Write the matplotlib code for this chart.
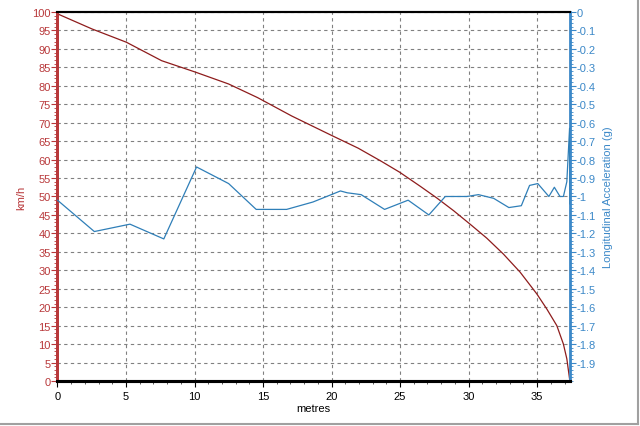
import matplotlib
matplotlib.use("Agg")
import matplotlib.pyplot as plt
from matplotlib.ticker import MultipleLocator, FixedLocator
from matplotlib.lines import Line2D

# distance (m) vs speed (km/h)
speed_x = [0, 2.52, 5.03, 7.6, 10.07, 12.48, 14.6, 17.1, 20.03, 21.94, 23.65,
           24.96, 26.46, 27.68, 28.89, 30.11, 31.33, 32.54, 33.76, 34.98,
           35.71, 36.44, 36.92, 37.17, 37.34, 37.38]
speed_v = [99.5, 95.4, 91.8, 86.8, 83.7, 80.5, 76.8, 71.8, 66.5, 63.1, 59.5,
           56.6, 52.8, 49.6, 46.2, 42.5, 38.7, 34.4, 29.5, 23.6,
           19.5, 15.0, 10.0, 6.0, 1.4, 0.3]

# distance (m) vs longitudinal acceleration (g)
acc_x = [0, 2.69, 5.29, 7.76, 10.15, 12.49, 14.5, 16.72, 18.64, 20.65, 21.15,
         22.16, 23.87, 25.59, 27.1, 28.3, 29.87, 30.72, 31.83, 32.94, 33.85,
         34.45, 35.05, 35.86, 36.26, 36.67, 36.92, 37.17, 37.37, 37.4]
acc_g = [-1.02, -1.19, -1.15, -1.23, -0.84, -0.93, -1.07, -1.07, -1.03, -0.97,
         -0.98, -0.99, -1.07, -1.02, -1.10, -1.00, -1.00, -0.99, -1.01, -1.06,
         -1.05, -0.94, -0.93, -1.00, -0.95, -1.00, -1.00, -0.92, -0.63, -1.04]

left_ticks = list(range(0, 101, 5))
right_ticks = [-i / 10 for i in range(0, 20)]
right_labels = ["0" if t == 0 else ("-1" if t == -1 else f"{t:.1f}") for t in right_ticks]

RED = "#b8383a"
REDLINE = "#8e1c1c"
BLUE = "#3b88c8"
BLUELINE = "#2f7fb8"

plt.rcParams['font.family'] = ['Liberation Sans', 'DejaVu Sans']

fig = plt.figure(figsize=(6.4, 4.27), dpi=100)
# grey frame at bottom and right edges of the picture
fig.lines.append(Line2D([0, 0.997], [0.004, 0.004], transform=fig.transFigure,
                        color="#a0a0a0", linewidth=1.5))
fig.lines.append(Line2D([0.997, 0.997], [0.004, 1.0], transform=fig.transFigure,
                        color="#a0a0a0", linewidth=1.5))
ax = fig.add_axes([0.0898, 0.1054, 0.8008, 0.8642])
ax2 = ax.twinx()

ax.plot(speed_x, speed_v, color=REDLINE, linewidth=0.9, zorder=3)
ax2.plot(acc_x, acc_g, color=BLUELINE, linewidth=0.9, zorder=3)

ax.set_xlim(0, 37.4)
ax.set_ylim(0, 100)
ax2.set_ylim(-2, 0)

ax.xaxis.set_major_locator(MultipleLocator(5))
ax.xaxis.set_minor_locator(MultipleLocator(1))
ax.yaxis.set_major_locator(FixedLocator(left_ticks))
ax.yaxis.set_minor_locator(MultipleLocator(1))
ax2.yaxis.set_major_locator(FixedLocator(right_ticks))
ax2.set_yticklabels(right_labels)
ax2.yaxis.set_minor_locator(MultipleLocator(0.02))

ax.grid(True, which='major', linestyle=(0, (3, 3)), color="#808080", linewidth=0.8)

ax.spines['top'].set_linewidth(1.5)
ax.spines['bottom'].set_linewidth(2.2)
ax2.spines['top'].set_linewidth(1.5)
ax2.spines['bottom'].set_linewidth(2.2)
ax2.spines['left'].set_color(RED)
ax2.spines['left'].set_linewidth(2.0)
ax.spines['left'].set_color(RED)
ax.spines['left'].set_linewidth(2.0)
ax2.spines['right'].set_color(BLUE)
ax2.spines['right'].set_linewidth(2.0)
ax.spines['right'].set_visible(False)

ax.tick_params(axis='x', which='major', length=4, width=0.8, colors='black',
               labelsize=8, pad=3)
ax.tick_params(axis='x', which='minor', length=2.5, width=0.6, colors='#404040')
ax.tick_params(axis='y', which='major', length=4, width=0.8, colors=RED,
               labelsize=8, pad=1)
ax.tick_params(axis='y', which='minor', length=2, width=0.6, colors=RED)
ax2.tick_params(axis='y', which='major', length=4, width=0.8, colors=BLUE,
                labelsize=8, pad=1)
ax2.tick_params(axis='y', which='minor', length=2, width=0.6, colors=BLUE)

ax.set_xlabel("metres", fontsize=8, color='black', labelpad=2)
ax.set_ylabel("km/h", fontsize=8, color=RED, labelpad=4)
ax2.set_ylabel("Longitudinal Acceleration (g)", fontsize=8, color=BLUE, labelpad=5)

fig.savefig("out.png", dpi=100)
